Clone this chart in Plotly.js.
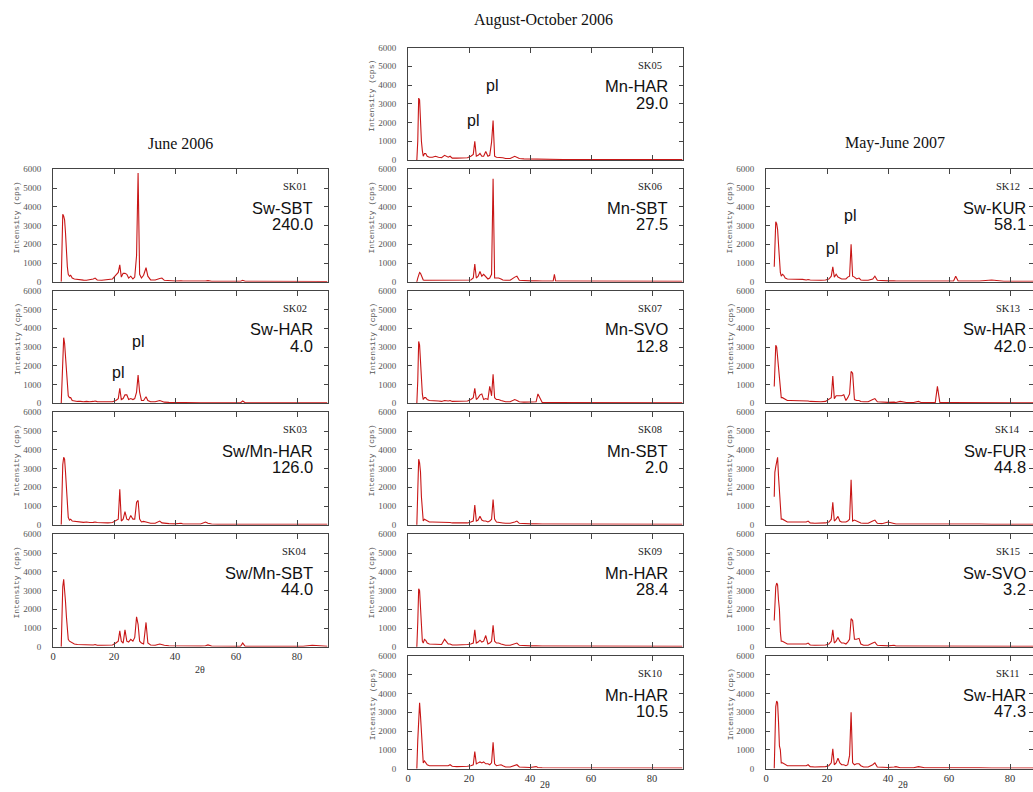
<!DOCTYPE html>
<html>
<head>
<meta charset="utf-8">
<script src="https://cdn.plot.ly/plotly-3.0.1.min.js"></script>
<style>
html,body{margin:0;padding:0;background:#fff;overflow:hidden;}
#chart{width:1033px;height:792px;}
</style>
</head>
<body>
<div id="chart"></div>
<script>
// ---------------- DATA ----------------
const twoTheta = [2.7,2.9,3.2,3.5,3.8,4.1,4.4,4.7,5.0,5.4,
  5.8,6.3,7.0,8.0,9.0,10.0,11.0,12.0,13.2,13.8,
  14.5,16.0,18.0,19.5,20.6,21.4,21.9,22.4,23.0,23.6,
  24.2,24.8,25.5,26.2,26.8,27.4,27.9,28.4,29.0,29.7,
  30.5,31.1,32.0,33.5,35.0,35.7,36.5,38.0,40.0,42.0,
  42.6,44.0,46.0,47.6,48.0,48.4,50.0,50.8,52.0,54.0,55.5,56.2,
  57.0,60.0,61.5,62.2,63.0,66.0,70.0,74.0,78.0,82.0,
  85.0,88.0,90.0];

const sk01 = [0,1800,3600,3500,3300,2600,1500,800,400,300,
  350,200,150,120,100,90,80,100,150,200,
  100,80,100,150,350,500,900,250,450,450,
  400,200,300,150,250,1400,5800,400,200,350,
  750,300,100,100,180,200,80,50,40,60,
  40,40,30,30,50,30,40,60,30,30,30,30,
  30,30,30,80,30,30,30,30,30,20,
  20,20,20];
const sk02 = [0,1200,3000,3500,3200,2500,1500,800,400,300,
  300,150,120,100,100,80,100,80,100,120,
  90,80,80,80,150,250,800,200,250,450,
  450,200,250,200,250,600,1500,600,150,150,
  350,150,80,80,150,120,60,50,40,40,
  30,30,30,30,30,30,30,30,30,30,30,30,
  30,30,30,120,30,30,30,20,20,20,
  20,20,20];
const sk03 = [0,1500,3200,3600,3500,2800,2000,1000,400,250,
  300,200,180,150,150,130,150,120,130,150,
  120,100,100,120,200,300,1900,200,300,700,
  300,250,500,300,300,1200,1300,300,150,180,
  150,120,80,80,200,100,80,60,50,80,
  40,50,40,40,40,40,150,80,40,30,30,30,
  30,30,30,30,30,30,30,30,30,30,
  30,30,30];
const sk04 = [0,1400,3200,3600,3100,2400,1600,900,400,300,
  250,200,150,120,110,100,100,90,100,120,
  80,80,80,100,200,300,850,300,200,900,
  300,250,400,300,500,1600,1200,300,200,150,
  1300,200,100,80,150,120,80,60,50,80,
  40,50,40,40,50,40,60,100,40,30,30,30,
  30,30,30,200,30,30,30,30,30,30,
  80,30,30];
const sk05 = [0,0,1000,3300,3200,1800,1000,500,200,350,
  350,200,150,150,200,150,120,250,150,200,
  100,100,100,120,200,300,1000,200,250,350,
  200,200,450,200,250,950,2100,200,150,150,
  150,120,80,80,200,150,80,60,50,40,
  40,30,30,30,30,30,30,30,30,30,30,30,
  30,30,30,30,30,30,30,30,30,30,
  30,30,30];
const sk06 = [0,0,200,400,500,450,300,150,100,80,
  80,80,80,80,80,80,80,80,80,80,
  80,80,80,80,100,200,950,200,300,550,
  300,400,300,150,200,400,5500,200,200,200,
  150,100,80,80,250,300,80,60,50,50,
  40,40,40,40,400,40,40,40,40,40,40,40,
  40,30,30,30,30,30,30,30,30,30,
  30,30,30];
const sk07 = [0,0,1200,3300,3100,2000,1000,500,200,300,
  300,200,150,150,150,120,100,150,120,150,
  100,100,100,120,200,300,800,200,300,450,
  500,200,250,200,900,400,1550,300,200,200,
  150,120,80,80,200,150,80,60,50,80,
  500,40,40,40,40,40,50,40,40,40,40,40,
  40,40,40,40,40,40,40,40,40,30,
  30,30,30];
const sk08 = [0,0,1800,3500,3300,2800,1500,700,200,300,
  250,200,150,150,150,150,120,150,120,120,
  100,100,100,100,150,200,1050,200,250,450,
  250,200,200,150,200,300,1350,300,150,120,
  120,100,80,80,150,200,80,60,50,50,
  40,40,40,40,40,40,40,40,40,40,40,40,
  40,40,40,40,40,40,40,30,30,30,
  30,30,30];
const sk09 = [0,0,1300,3100,3000,2000,800,300,200,400,
  350,200,150,150,150,150,120,400,150,150,
  100,100,100,120,150,200,900,200,250,350,
  250,300,600,150,200,300,1150,300,200,200,
  150,120,80,80,150,200,80,60,50,50,
  40,40,40,40,40,40,40,40,40,40,40,40,
  40,40,40,40,40,40,40,30,30,30,
  30,30,30];
const sk10 = [0,0,1500,2400,3500,2800,1800,800,300,400,
  300,200,150,150,150,130,120,130,150,200,
  120,100,100,120,150,200,900,250,300,350,
  300,350,250,250,200,300,1400,250,150,180,
  200,150,80,80,150,200,80,60,50,100,
  50,40,40,40,40,40,40,60,40,40,40,40,
  40,40,40,40,40,40,40,30,30,30,
  30,30,30];
const sk12 = [800,1500,3200,3100,2800,2000,1200,500,300,400,
  350,200,150,150,150,130,120,130,100,120,
  100,80,80,100,150,300,800,250,400,250,
  200,150,150,150,250,300,2000,300,250,150,
  200,100,80,80,150,300,80,60,50,60,
  40,40,40,40,40,40,40,40,40,40,40,40,
  40,40,40,300,40,40,40,100,30,30,
  30,30,30];
const sk13 = [900,1500,3100,3000,2500,2000,1700,900,300,300,
  250,200,150,150,150,120,120,130,150,120,
  100,80,80,100,200,300,1450,250,400,400,
  400,400,450,150,300,500,1700,1600,200,150,
  150,100,80,80,200,250,80,60,50,60,
  40,100,40,40,40,40,100,40,40,40,40,900,
  40,40,40,40,40,40,40,30,30,30,
  30,30,30];
const sk14 = [1500,2800,3100,3400,3600,2600,2000,1000,300,300,
  250,200,150,150,150,120,120,130,150,200,
  100,80,80,100,150,300,1200,200,300,450,
  200,150,150,150,200,300,2400,200,250,200,
  150,100,80,80,200,250,80,60,150,60,
  40,40,40,40,40,40,40,40,40,40,40,40,
  40,40,80,40,40,40,40,30,30,30,
  30,30,30];
const sk15 = [1400,2800,3200,3400,3300,2500,2000,800,300,300,
  250,200,150,150,150,120,120,130,150,200,
  100,80,80,100,150,300,900,200,300,500,
  300,200,200,150,250,400,1500,1400,400,400,
  450,150,80,80,200,250,80,60,50,80,
  40,40,40,40,40,40,40,40,40,40,40,40,
  40,40,40,40,40,40,40,30,30,30,
  30,30,30];
const sk11 = [0,2500,3300,3600,3500,2500,1200,1000,300,300,
  250,200,150,150,150,120,120,130,150,200,
  100,80,80,100,150,300,1050,200,300,550,
  300,200,200,150,200,700,3000,300,200,250,
  250,150,80,80,200,300,80,60,50,80,
  100,40,40,40,40,40,100,80,40,40,40,40,
  40,40,40,80,40,40,40,30,30,30,
  30,30,30];

const sampleIds    = ['SK01','SK02','SK03','SK04','SK05','SK06','SK07','SK08','SK09','SK10','SK12','SK13','SK14','SK15','SK11'];
const sampleSites  = ['Sw-SBT','Sw-HAR','Sw/Mn-HAR','Sw/Mn-SBT','Mn-HAR','Mn-SBT','Mn-SVO','Mn-SBT','Mn-HAR','Mn-HAR','Sw-KUR','Sw-HAR','Sw-FUR','Sw-SVO','Sw-HAR'];
const sampleValues = ['240.0','4.0','126.0','44.0','29.0','27.5','12.8','2.0','28.4','10.5','58.1','42.0','44.8','3.2','47.3'];
const sampleSeries = [sk01,sk02,sk03,sk04,sk05,sk06,sk07,sk08,sk09,sk10,sk12,sk13,sk14,sk15,sk11];
const periodTitles = ['June 2006','August-October 2006','May-June 2007'];
const xTickVals = [0,20,40,60,80];
const yTickVals = [0,1000,2000,3000,4000,5000,6000];
// "pl" peak markers: sample id, 2θ, intensity
const plSamples = ['SK02','SK02','SK05','SK05','SK12','SK12'];
const plTheta   = [21.3,27.9,21.3,27.7,21.8,27.5];
const plInt     = [1620,3290,2130,4000,1790,3560];

// ---------------- LAYOUT ----------------
const W = 1033, H = 792;
const colX = [[53,327.5],[408,682.5],[766,1040.5]];
const rowTop = [47.5,169.3,290.8,412.3,534.3,656];
const PH = 112.5;
const panelCol = [0,0,0,0,1,1,1,1,1,1,2,2,2,2,2];
const panelRow = [1,2,3,4,0,1,2,3,4,5,1,2,3,4,5];
const bottomRow = [4,5,5];

const red = 'rgb(200,22,22)';
const frame = '#444';
const traces = [];
const layout = {
  width: W, height: H,
  margin: {l:0,r:0,t:0,b:0},
  paper_bgcolor: '#fff', plot_bgcolor: '#fff',
  showlegend: false, hovermode: false,
  annotations: []
};
const serif = 'Liberation Serif, Times New Roman, serif';
const sans = 'Liberation Sans, Arial, sans-serif';

sampleIds.forEach((id,i) => {
  const k = i+1;
  const c = panelCol[i], r = panelRow[i];
  const x0 = colX[c][0], x90 = colX[c][1];
  const xEnd = Math.min(x90, W);
  const xmax = 90*(xEnd-x0)/(x90-x0);
  const top = rowTop[r], bot = top+PH;
  const xa = 'x'+(k===1?'':k), ya = 'y'+(k===1?'':k);
  traces.push({x: twoTheta, y: sampleSeries[i], type:'scatter', mode:'lines',
    line:{color:red, width:1.1}, xaxis: xa, yaxis: ya});
  layout['xaxis'+(k===1?'':k)] = {
    domain:[x0/W, xEnd/W], range:[0,xmax], anchor: ya,
    tickvals: xTickVals, ticks:'inside', ticklen:5, tickwidth:1, tickcolor:frame,
    showline:true, linecolor:frame, linewidth:1, mirror:'ticks',
    showgrid:false, zeroline:false, fixedrange:true,
    showticklabels: r===bottomRow[c],
    tickfont:{family:serif, size:10.5, color:'#333'}
  };
  layout['yaxis'+(k===1?'':k)] = {
    domain:[1-bot/H, 1-top/H], range:[0,6000], anchor: xa,
    tickvals: yTickVals, ticks:'inside', ticklen:4, tickwidth:1, tickcolor:frame,
    showline:true, linecolor:frame, linewidth:1, mirror:'ticks',
    showgrid:false, zeroline:false, fixedrange:true,
    ticklabelstandoff: 9,
    tickfont:{family:serif, size:9, color:'#555'}
  };
  const A = layout.annotations;
  A.push({xref:'paper', yref:'paper', x:(x90-19)/W, y:1-(top+17.5)/H, xanchor:'right', yanchor:'middle',
    text:id, showarrow:false, font:{family:serif, size:10.5, color:'#222'}});
  A.push({xref:'paper', yref:'paper', x:(x90-13)/W, y:1-(top+38.5)/H, xanchor:'right', yanchor:'middle',
    text:sampleSites[i], showarrow:false, font:{family:sans, size:16.5, color:'#111'}});
  A.push({xref:'paper', yref:'paper', x:(x90-13)/W, y:1-(top+55)/H, xanchor:'right', yanchor:'middle',
    text:sampleValues[i], showarrow:false, font:{family:sans, size:16.5, color:'#111'}});
  A.push({xref:'paper', yref:'paper', x:(x0-36)/W, y:1-(top+PH/2-8)/H, xanchor:'center', yanchor:'middle',
    text:'Intensity (cps)', textangle:-90, showarrow:false, font:{family:'Liberation Mono, monospace', size:8, color:'#555'}});
});

plSamples.forEach((id,j) => {
  const k = sampleIds.indexOf(id)+1;
  layout.annotations.push({xref:'x'+(k===1?'':k), yref:'y'+(k===1?'':k), x:plTheta[j], y:plInt[j],
    text:'pl', showarrow:false, xanchor:'center', yanchor:'middle', font:{family:sans, size:16, color:'#111'}});
});

const titlePos = [[180,143],[543,20],[895,143]];
periodTitles.forEach((t,c) => {
  layout.annotations.push({xref:'paper', yref:'paper', x:titlePos[c][0]/W, y:1-titlePos[c][1]/H,
    xanchor:'center', yanchor:'middle', text:t, showarrow:false, font:{family:serif, size:16, color:'#111'}});
});
const thetaPos = [[200,669],[545,784],[903,784]];
thetaPos.forEach(p => {
  layout.annotations.push({xref:'paper', yref:'paper', x:p[0]/W, y:1-p[1]/H, xanchor:'center', yanchor:'middle',
    text:'2θ', showarrow:false, font:{family:serif, size:10, color:'#333'}});
});

Plotly.newPlot('chart', traces, layout, {staticPlot:true, displayModeBar:false});
</script>
</body>
</html>
